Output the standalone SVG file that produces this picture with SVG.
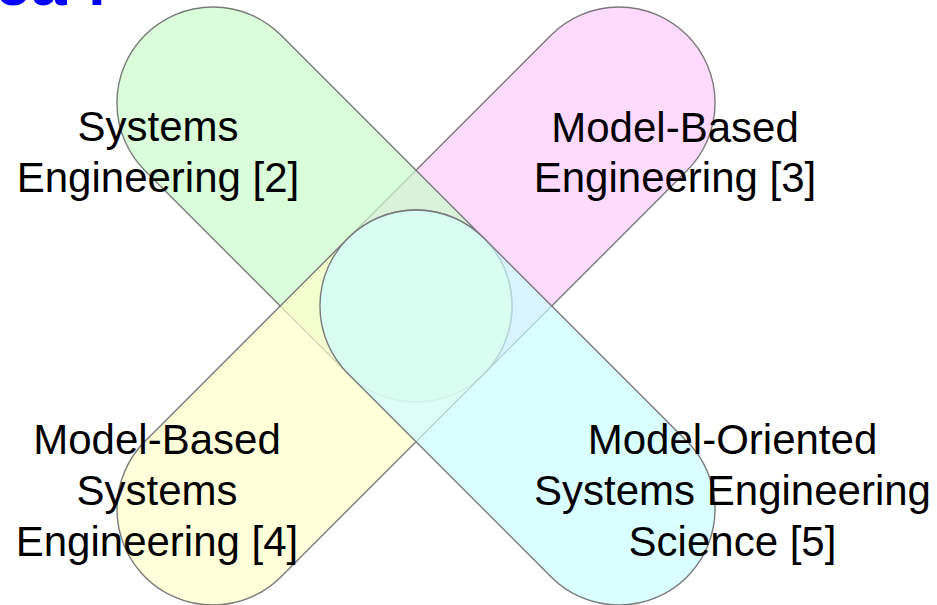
<svg xmlns="http://www.w3.org/2000/svg" width="937" height="605" viewBox="0 0 937 605">
  <style>
    .cap { stroke: #7a7a7a; stroke-width: 1.4; fill-opacity: 0.7; }
    .lbl { font-family: "Liberation Sans", Arial, sans-serif; font-size: 42px; fill: #000; text-anchor: middle; }
    .title { font-family: "Liberation Sans", Arial, sans-serif; font-size: 64px; font-weight: bold; fill: #0000ff; }
  </style>
  <rect width="937" height="605" fill="#ffffff"/>
  <text class="title" x="-5" y="5">e<tspan x="31">a</tspan><tspan x="88">l</tspan></text>
  <g id="connectors"/>
  <g id="model-based-engineering">
    <rect class="cap" fill="#ffcaff" x="-239.6" y="-96" width="479.2" height="192" rx="96" transform="translate(517.5,204.5) rotate(-45)"/>
    <text class="lbl" x="675" y="142">Model-Based</text>
    <text class="lbl" x="675" y="192">Engineering [3]</text>
  </g>
  <g id="systems-engineering">
    <rect class="cap" fill="#cafcca" x="-239.6" y="-96" width="479.2" height="192" rx="96" transform="translate(314.5,204.5) rotate(45)"/>
    <text class="lbl" x="158" y="141">Systems</text>
    <text class="lbl" x="158" y="192">Engineering [2]</text>
  </g>
  <g id="model-based-systems-engineering">
    <rect class="cap" fill="#ffffca" x="-239.6" y="-96" width="479.2" height="192" rx="96" transform="translate(314.5,407.5) rotate(-45)"/>
    <text class="lbl" x="157" y="454">Model-Based</text>
    <text class="lbl" x="157" y="505">Systems</text>
    <text class="lbl" x="157" y="556">Engineering [4]</text>
  </g>
  <g id="model-oriented-systems-engineering-science">
    <rect class="cap" fill="#caffff" x="-239.6" y="-96" width="479.2" height="192" rx="96" transform="translate(517.5,407.5) rotate(45)"/>
    <text class="lbl" x="732.5" y="454">Model-Oriented</text>
    <text class="lbl" x="732.5" y="505">Systems Engineering</text>
    <text class="lbl" x="732.5" y="556">Science [5]</text>
  </g>
</svg>
